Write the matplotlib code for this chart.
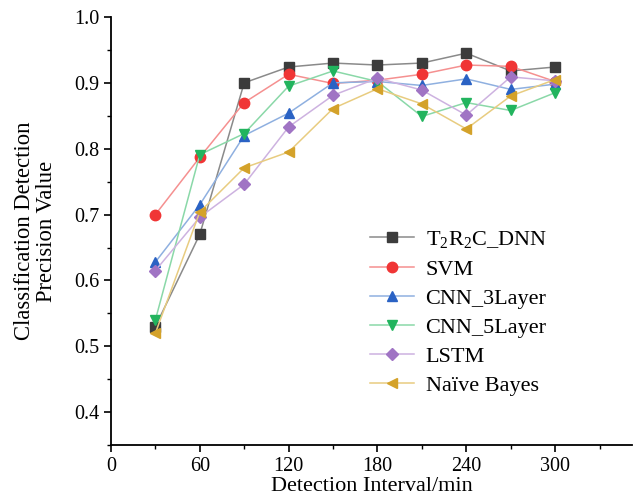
import matplotlib
matplotlib.use("Agg")
import matplotlib.pyplot as plt
from matplotlib.ticker import MultipleLocator

plt.rcParams["font.family"] = ["Liberation Serif", "DejaVu Serif"]
plt.rcParams["mathtext.fontset"] = "custom"
plt.rcParams["mathtext.rm"] = "Liberation Serif"

interval = [30, 60, 90, 120, 150, 180, 210, 240, 270, 300]

t2r2c_dnn = [0.530, 0.670, 0.900, 0.924, 0.930, 0.927, 0.930, 0.945, 0.918, 0.924]
svm = [0.700, 0.787, 0.870, 0.913, 0.899, 0.904, 0.913, 0.927, 0.925, 0.902]
cnn_3layer = [0.628, 0.715, 0.820, 0.854, 0.900, 0.902, 0.896, 0.906, 0.890, 0.898]
cnn_5layer = [0.540, 0.791, 0.823, 0.895, 0.918, 0.902, 0.849, 0.870, 0.858, 0.885]
lstm = [0.615, 0.696, 0.746, 0.833, 0.881, 0.907, 0.889, 0.851, 0.909, 0.903]
naive_bayes = [0.520, 0.704, 0.771, 0.795, 0.861, 0.891, 0.868, 0.830, 0.880, 0.905]

series = [
    (t2r2c_dnn, r"T$_2$R$_2$C_DNN", "#3c3c3c", "#8a8a8a", "s"),
    (svm, "SVM", "#f03535", "#f59090", "o"),
    (cnn_3layer, "CNN_3Layer", "#2a62c4", "#8fb0e0", "^"),
    (cnn_5layer, "CNN_5Layer", "#22b45e", "#8ad8a8", "v"),
    (lstm, "LSTM", "#a074c4", "#cdb2e0", "D"),
    (naive_bayes, "Naïve Bayes", "#d4a22a", "#e8cc80", "<"),
]

fig = plt.figure(figsize=(6.34, 4.98), dpi=100)
ax = fig.add_axes([0.175, 0.106, 0.822, 0.86])

for vals, label, mcol, lcol, mk in series:
    ms = 6.5 if mk == "D" else 7.5
    ax.plot(interval, vals, color=lcol, linewidth=1.1, marker=mk,
            markersize=ms, markerfacecolor=mcol, markeredgecolor=mcol,
            label=label)

ax.set_xlim(0, 352)
ax.set_ylim(0.35, 1.0)
ax.set_xticks([0, 60, 120, 180, 240, 300])
ax.set_yticks([0.4, 0.5, 0.6, 0.7, 0.8, 0.9, 1.0])
ax.xaxis.set_minor_locator(MultipleLocator(30))
ax.yaxis.set_minor_locator(MultipleLocator(0.05))
ax.tick_params(which="major", direction="out", length=5, width=1.2, labelsize=14.5)
ax.tick_params(which="minor", direction="out", length=3, width=1.0)

for s in ["top", "right"]:
    ax.spines[s].set_visible(False)
for s in ["left", "bottom"]:
    ax.spines[s].set_linewidth(1.3)

ax.set_xlabel("Detection Interval/min", fontsize=16, labelpad=1)
ax.set_ylabel("Classification Detection\nPrecision Value", fontsize=16.3,
              labelpad=12, linespacing=1.05)

ax.legend(loc="upper left", bbox_to_anchor=(0.48, 0.525), frameon=False,
          fontsize=16, handlelength=2.0, handletextpad=0.5, labelspacing=0.38,
          borderaxespad=0)

fig.savefig("out.png", dpi=100)
